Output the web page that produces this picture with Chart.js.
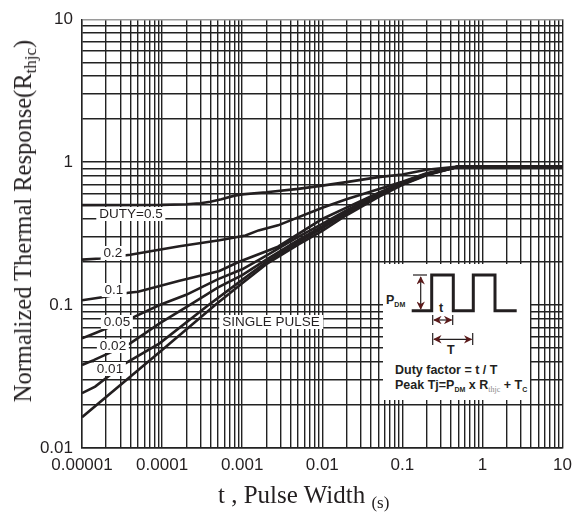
<!DOCTYPE html>
<html>
<head>
<meta charset="utf-8">
<script src="https://cdn.jsdelivr.net/npm/chart.js@4/dist/chart.umd.min.js"></script>
<style>
  html, body { margin: 0; padding: 0; background: #fff; }
  #wrap { position: relative; width: 579px; height: 516px; overflow: hidden; }
  #c { position: absolute; left: 0; top: 0; }
  .lbl { position: absolute; transform: translate(-50%, -50%); background: #fff; color: #231f20;
         font: 13.5px "Liberation Sans", Arial, sans-serif; line-height: 12px; padding: 1px 3px; white-space: nowrap; }
  .ytitle { position: absolute; left: 25px; top: 221px; transform: translate(-50%, -50%) rotate(-90deg);
            font: 24.5px "Liberation Serif", "Times New Roman", serif; color: #231f20; white-space: nowrap; }
  .xtitle { position: absolute; left: 218px; top: 497px; transform: translateY(-50%);
            font: 25px "Liberation Serif", "Times New Roman", serif; color: #231f20; white-space: nowrap; }
  .sub1 { font-size: 17px; vertical-align: -5px; }
  #inset { position: absolute; left: 383px; top: 264px; width: 147px; height: 136px; background: #fff; }
  #inset svg { position: absolute; left: 0; top: 0; }
  .it { position: absolute; font: bold 12.5px "Liberation Sans", Arial, sans-serif; color: #231f20; white-space: nowrap; line-height: 14px; }
  .isub { font-size: 7px; vertical-align: -3px; }
  .isub2 { font: 8px "Liberation Serif", serif; color: #888; vertical-align: -3px; }
</style>
</head>
<body>
<div id="wrap">
  <canvas id="c" width="579" height="516"></canvas>

  <div class="lbl" style="left:131px; top:214px;">DUTY=0.5</div>
  <div class="lbl" style="left:113px; top:253px;">0.2</div>
  <div class="lbl" style="left:114px; top:290px;">0.1</div>
  <div class="lbl" style="left:117px; top:322px;">0.05</div>
  <div class="lbl" style="left:113px; top:346px;">0.02</div>
  <div class="lbl" style="left:110px; top:369px;">0.01</div>
  <div class="lbl" style="left:271px; top:322px;">SINGLE PULSE</div>

  <div id="inset">
    <svg width="147" height="136" viewBox="0 0 147 136">
      <defs>
        <marker id="ah" viewBox="0 0 10 10" refX="9" refY="5" markerWidth="7" markerHeight="7" orient="auto-start-reverse">
          <path d="M0,0 L10,5 L0,10 L3,5 z" fill="#5a1a1a"/>
        </marker>
      </defs>
      <polyline points="28.7,46.7 48.7,46.7 48.7,11 70.3,11 70.3,46.7 90.3,46.7 90.3,11 112,11 112,46.7 133.7,46.7"
                fill="none" stroke="#231f20" stroke-width="3" stroke-linejoin="miter"/>
      <line x1="30" y1="11" x2="44" y2="11" stroke="#231f20" stroke-width="1.2"/>
      <line x1="37.7" y1="13" x2="37.7" y2="45" stroke="#231f20" stroke-width="1.2" marker-start="url(#ah)" marker-end="url(#ah)"/>
      <line x1="49.7" y1="51" x2="49.7" y2="61" stroke="#231f20" stroke-width="1.2"/>
      <line x1="69.7" y1="51" x2="69.7" y2="61" stroke="#231f20" stroke-width="1.2"/>
      <line x1="51" y1="56" x2="68.5" y2="56" stroke="#231f20" stroke-width="1.2" marker-start="url(#ah)" marker-end="url(#ah)"/>
      <line x1="49.7" y1="69" x2="49.7" y2="81" stroke="#231f20" stroke-width="1.2"/>
      <line x1="89.7" y1="69" x2="89.7" y2="81" stroke="#231f20" stroke-width="1.2"/>
      <line x1="51" y1="75.3" x2="88.5" y2="75.3" stroke="#231f20" stroke-width="1.2" marker-start="url(#ah)" marker-end="url(#ah)"/>
    </svg>
    <div class="it" style="left:3px; top:29px;">P<span class="isub">DM</span></div>
    <div class="it" style="left:56px; top:37px;">t</div>
    <div class="it" style="left:64px; top:79px;">T</div>
    <div class="it" style="left:12px; top:99px;">Duty factor = t / T</div>
    <div class="it" style="left:12px; top:114px;">Peak Tj=P<span class="isub">DM</span> x R<span class="isub2">thjc</span> + T<span class="isub">C</span></div>
  </div>

  <div class="ytitle">Normalized Thermal Response(R<span class="sub1">thjc</span>)</div>
  <div class="xtitle">t , Pulse Width <span class="sub1">(s)</span></div>
</div>

<script>
// ---- tick labels (decades) ----
const xDecades = [1e-5, 1e-4, 1e-3, 1e-2, 1e-1, 1, 10];
const xDecadeLabels = ['0.00001', '0.0001', '0.001', '0.01', '0.1', '1', '10'];
const yDecades = [0.01, 0.1, 1, 10];
const yDecadeLabels = ['0.01', '0.1', '1', '10'];

// ---- series (t in s, normalized Rthjc) ----
const d05T = [1e-5, 1e-4, 2e-4, 3e-4, 4e-4, 5.5e-4, 8e-4, 1e-3, 2e-3, 5e-3, 1e-2, 2e-2, 5e-2, 0.1, 0.2, 0.5, 1, 10];
const d05R = [0.50, 0.502, 0.507, 0.515, 0.528, 0.55, 0.583, 0.595, 0.615, 0.65, 0.685, 0.725, 0.785, 0.82, 0.885, 0.93, 0.93, 0.93];

const d02T = [1e-5, 1.7e-5, 4e-5, 1.65e-4, 5.2e-4, 1.1e-3, 1.6e-3, 2.8e-3, 1e-2, 2e-2, 5e-2, 0.1, 0.2, 0.5, 1, 10];
const d02R = [0.208, 0.212, 0.225, 0.258, 0.284, 0.307, 0.333, 0.361, 0.48, 0.55, 0.645, 0.73, 0.835, 0.93, 0.93, 0.93];

const d01T = [1e-5, 1.7e-5, 3.8e-5, 5e-5, 1.65e-4, 5.2e-4, 9e-4, 2.8e-3, 1e-2, 2e-2, 5e-2, 0.1, 0.2, 0.5, 1, 10];
const d01R = [0.108, 0.113, 0.122, 0.124, 0.148, 0.173, 0.2, 0.256, 0.40, 0.48, 0.61, 0.72, 0.83, 0.93, 0.93, 0.93];

const d005T = [1e-5, 1.5e-5, 4.35e-5, 9.3e-5, 2e-4, 5e-4, 1e-3, 2e-3, 5e-3, 1e-2, 2e-2, 5e-2, 0.1, 0.2, 0.5, 1, 10];
const d005R = [0.0585, 0.064, 0.082, 0.1, 0.118, 0.152, 0.178, 0.222, 0.30, 0.37, 0.46, 0.60, 0.71, 0.825, 0.93, 0.93, 0.93];

const d002T = [1e-5, 1.4e-5, 4e-5, 9.3e-5, 2.2e-4, 5e-4, 1e-3, 2e-3, 5e-3, 1e-2, 2e-2, 5e-2, 0.1, 0.2, 0.5, 1, 10];
const d002R = [0.0381, 0.0412, 0.054, 0.0745, 0.1, 0.133, 0.162, 0.208, 0.285, 0.355, 0.45, 0.59, 0.705, 0.82, 0.93, 0.93, 0.93];

const d001T = [1e-5, 1.46e-5, 3.44e-5, 9.3e-5, 3.8e-4, 1e-3, 2e-3, 5e-3, 1e-2, 2e-2, 5e-2, 0.1, 0.2, 0.5, 1, 10];
const d001R = [0.0242, 0.0269, 0.039, 0.054, 0.1, 0.15, 0.2, 0.275, 0.345, 0.44, 0.58, 0.70, 0.815, 0.93, 0.93, 0.93];

const singleT = [1e-5, 1e-4, 4.6e-4, 1e-3, 2e-3, 5e-3, 1e-2, 2e-2, 5e-2, 0.1, 0.2, 0.5, 1, 10];
const singleR = [0.0164, 0.0485, 0.1, 0.142, 0.193, 0.265, 0.33, 0.425, 0.57, 0.695, 0.81, 0.93, 0.93, 0.93];

const seriesList = [
  ['DUTY=0.5', d05T, d05R], ['0.2', d02T, d02R], ['0.1', d01T, d01R], ['0.05', d005T, d005R],
  ['0.02', d002T, d002R], ['0.01', d001T, d001R], ['SINGLE PULSE', singleT, singleR]
];

function logGrid(decades) {
  const out = [];
  for (let i = 0; i < decades.length; i++) {
    out.push(decades[i]);
    if (i < decades.length - 1) for (let m = 2; m <= 9; m++) out.push(decades[i] * m);
  }
  return out;
}
function isSame(a, b) { return Math.abs(Math.log10(a) - Math.log10(b)) < 1e-9; }
function labelFor(v, decades, labels) {
  for (let i = 0; i < decades.length; i++) if (isSame(v, decades[i])) return labels[i];
  return '';
}

const lineColor = '#231f20';
const gridColor = '#222';

new Chart(document.getElementById('c'), {
  type: 'line',
  data: {
    datasets: seriesList.map(([name, T, R]) => ({
      label: name,
      data: T.map((t, i) => ({ x: t, y: R[i] })),
      borderColor: lineColor,
      borderWidth: 2.6,
      pointRadius: 0,
      tension: 0,
      fill: false
    }))
  },
  options: {
    responsive: false,
    animation: false,
    devicePixelRatio: 1,
    layout: { padding: { left: 0, right: 6, top: 12, bottom: 0 } },
    plugins: { legend: { display: false }, tooltip: { enabled: false } },
    scales: {
      x: {
        type: 'logarithmic', min: 1e-5, max: 10,
        afterBuildTicks: s => { s.ticks = logGrid(xDecades).map(v => ({ value: v })); },
        afterFit: s => { s.height = 68; },
        grid: { color: gridColor, lineWidth: 1.4, drawTicks: false },
        border: { color: gridColor, width: 1.4 },
        ticks: {
          autoSkip: false, maxRotation: 0, minRotation: 0, padding: 7,
          color: lineColor, font: { family: '"Liberation Sans", Arial, sans-serif', size: 17 },
          callback: v => labelFor(v, xDecades, xDecadeLabels)
        }
      },
      y: {
        type: 'logarithmic', min: 0.01, max: 10,
        afterBuildTicks: s => { s.ticks = logGrid(yDecades).map(v => ({ value: v })); },
        afterFit: s => { s.width = 82; },
        grid: {
          color: c => (c.tick && isSame(c.tick.value, 10)) ? '#9a9a9a' : gridColor,
          lineWidth: 1.4, drawTicks: false
        },
        border: { color: gridColor, width: 1.4 },
        ticks: {
          autoSkip: false, padding: 9,
          color: lineColor, font: { family: '"Liberation Sans", Arial, sans-serif', size: 17 },
          callback: v => labelFor(v, yDecades, yDecadeLabels)
        }
      }
    }
  }
});
</script>
</body>
</html>
